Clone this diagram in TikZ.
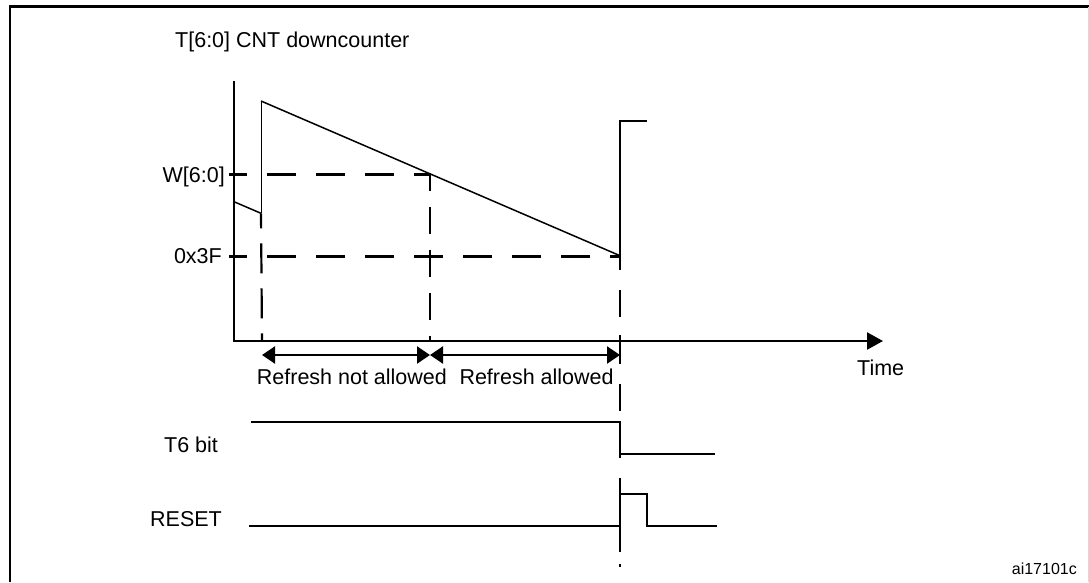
\documentclass[tikz,border=0pt]{standalone}
\usepackage{fontspec}
\setmainfont{Liberation Sans}
\usetikzlibrary{arrows.meta}
\tikzset{rtip/.tip={Triangle[length=13pt,width=17pt]}}
\begin{document}
\begin{tikzpicture}[x=1pt,y=-1pt,
  sig/.style={line width=2.3pt, line join=miter},
  thin sig/.style={line width=1.5pt},
  dsh/.style={line width=2.2pt, dash pattern=on 29pt off 20pt, dash phase=11pt},
  lbl/.style={font=\fontsize{21.5}{24}\selectfont, inner sep=0pt},
  frame/.style={line width=2.2pt}]
\useasboundingbox (0,0) rectangle (1089,582);
% frame
\draw[frame] (10,582) -- (10,6.5) -- (1089,6.5);
\draw[line width=1pt, black!15] (1088,6.5) -- (1088,582);
% key coordinates
\coordinate (ytop) at (234,81);
\coordinate (orig) at (234,341);
\coordinate (xend) at (883,341);
\coordinate (s0) at (234,201.7);
\coordinate (s1) at (261,213.3);
\coordinate (s2) at (261,101);
\coordinate (s3) at (620,255.7);
\coordinate (r0) at (620,270);
\coordinate (r1) at (620,121);
\coordinate (r2) at (647,121);
\coordinate (wl) at (229,174.5);
\coordinate (wr) at (431,174.5);
\coordinate (ql) at (229,256.5);
\coordinate (qr) at (620,256.5);
\coordinate (v1b) at (262,341);
\coordinate (v2t) at (430,174.5);
\coordinate (v2b) at (430,341);
\coordinate (v3e) at (620,552);
\coordinate (a1) at (262,355);
\coordinate (a2) at (430,355);
\coordinate (a3) at (620,355);
% axes
\draw[sig, -{Triangle[length=16pt,width=17pt]}] (ytop) -- (orig) -- (xend);
% counter waveform
\draw[thin sig] (s0) -- (s1);
\draw[line width=1pt] (s1) -- (s2);
\draw[thin sig] (s2) -- (s3);
\draw[sig] (r0) -- (r1) -- (r2);
% dashed levels
\draw[dsh] (wl) -- (wr);
\draw[dsh] (ql) -- (qr);
% dashed verticals
\draw[line width=2.2pt, dash pattern=on 30pt off 15pt, dash phase=15pt] (s1) -- (v1b);
\draw[line width=2.2pt, dash pattern=on 27pt off 16pt, dash phase=11pt] (v2t) -- (v2b);
\draw[line width=2.2pt, dash pattern=on 27pt off 20pt, dash phase=27pt] (r0) -- (v3e);
\draw[line width=2pt] (620,564) -- (620,567);
% refresh arrows
\draw[line width=2.2pt, {rtip}-{rtip}] (a1) -- (a2);
\draw[line width=2.2pt, {rtip}-{rtip}] (a2) -- (a3);
\draw[line width=2.2pt] (620,335) -- (620,362);
% T6 bit
\draw[sig] (251,422.3) -- (620,422.3) -- (620,454) -- (715,454);
% RESET
\draw[sig] (249,526) -- (620,526) -- (620,494.3) -- (646.7,494.3) -- (646.7,526) -- (717,526);
% labels
\node[lbl, anchor=base west] (ttl) at (175,47) {T[6:0] CNT downcounter};
\node[lbl, anchor=base east] (wlab) at (225,182) {W[6:0]};
\node[lbl, anchor=base east] (qlab) at (222,263) {0x3F};
\node[lbl, anchor=base west] (tlab) at (857,375) {Time};
\node[lbl, anchor=base west] (rna) at (256.7,384) {Refresh not allowed};
\node[lbl, anchor=base west] (ra) at (459.3,384) {Refresh allowed};
\node[lbl, anchor=base west] (t6) at (164,452) {T6 bit};
\node[lbl, anchor=base west] (rst) at (150,526) {RESET};
\node[inner sep=0pt, font=\fontsize{16}{18}\selectfont, anchor=base east] (id) at (1077,574) {ai17101c};
\end{tikzpicture}
\end{document}
